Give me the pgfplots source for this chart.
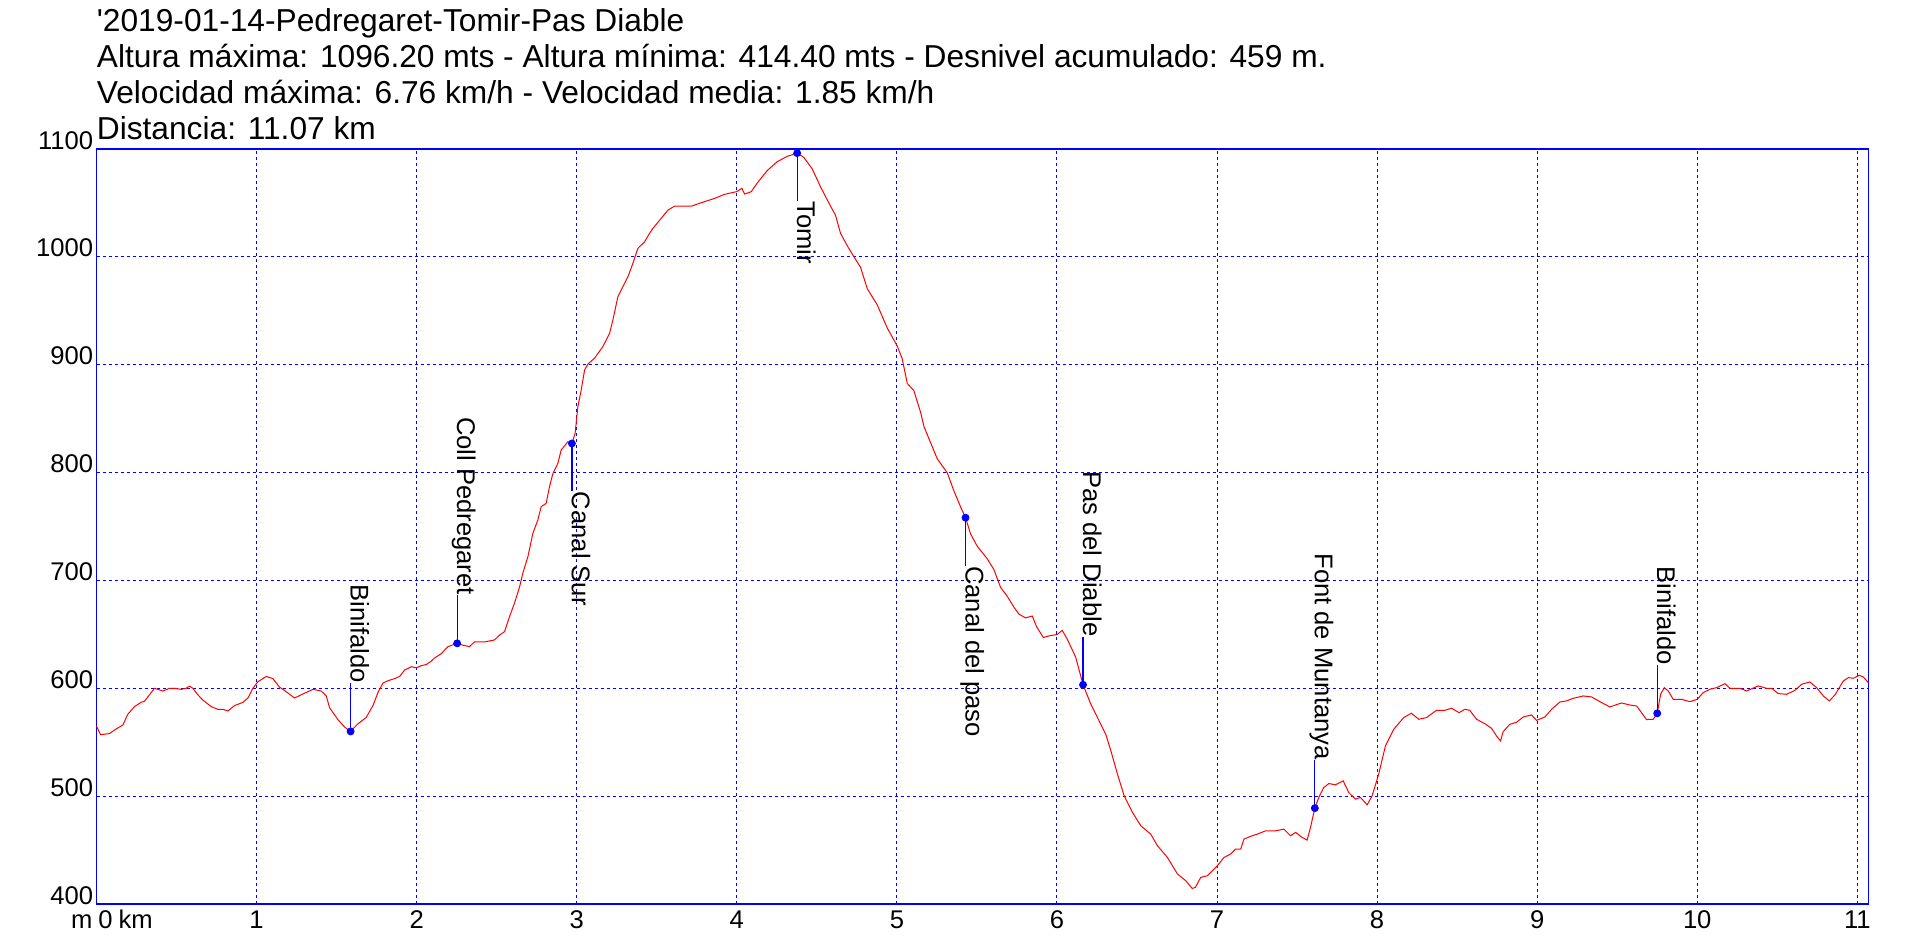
\documentclass[border=0pt]{standalone}
\usepackage{fontspec}
\setmainfont{Liberation Sans}[Ligatures=TeXOff]
\usepackage{pgfplots}
\pgfplotsset{compat=1.18}
\newcommand{\titlefont}{\fontsize{15.85}{18}\selectfont}
\newcommand{\tickfont}{\fontsize{12.8}{15}\selectfont}
\begin{document}
\begin{tikzpicture}
\begin{axis}[
  at={(48.25pt,23pt)}, anchor=south west,
  scale only axis, width=886pt, height=377.5pt,
  xmin=0, xmax=11.07, ymin=400, ymax=1100,
  xtick={0,1,2,3,4,5,6,7,8,9,10,11},
  xticklabels={{\hspace*{9pt}\makebox[0pt][r]{m\hspace{3pt}}0\makebox[0pt][l]{\hspace{3pt}km}},1,2,3,4,5,6,7,8,9,10,11},
  ytick={400,500,600,700,800,900,1000,1100},
  yticklabels={400,500,600,700,800,900,1000,1100},
  major tick length=0pt,
  tick style={draw=none},
  grid=major,
  major grid style={blue, line width=0.5pt, dash pattern=on 1.5pt off 1.5pt},
  axis line style={blue, line width=0.7pt},
  xticklabel style={anchor=north, inner sep=0pt, yshift=-3pt, font=\tickfont},
  yticklabel style={anchor=base east, inner sep=0pt, xshift=-1.5pt, font=\tickfont},
  clip=false,
]
\addplot[red, line width=0.5pt] coordinates {
(0.00,565) (0.025,557) (0.08,558) (0.12,562) (0.165,566) (0.196,576) (0.237,583) (0.279,587) (0.30,588) (0.331,594)
(0.3625,600) (0.383,599) (0.415,597.5) (0.456,600) (0.4875,600) (0.529,599) (0.56,600) (0.581,602) (0.602,600) (0.633,594)
(0.665,589) (0.717,583) (0.758,580.5) (0.79,580.5) (0.821,579) (0.8625,584) (0.915,587) (0.946,591) (0.977,600) (1.008,606)
(1.06,611) (1.102,609) (1.144,601) (1.175,598) (1.237,591) (1.279,594) (1.352,599) (1.404,597.5) (1.435,593) (1.456,582)
(1.508,571) (1.55,564) (1.5875,560) (1.6125,564) (1.633,567) (1.685,573) (1.727,584) (1.758,596) (1.79,605) (1.821,607)
(1.8625,609) (1.894,611) (1.925,617) (1.967,620) (1.998,619) (2.029,621) (2.06,622) (2.09,625) (2.111,628) (2.153,632)
(2.195,638.6) (2.253,641.7) (2.288,640) (2.33,638.6) (2.361,643) (2.424,643) (2.486,644.8) (2.518,649.4) (2.549,652.5) (2.58,666.4)
(2.611,678.8) (2.643,694) (2.663,706.6) (2.695,722) (2.726,743.7) (2.757,756) (2.778,768.4) (2.809,771.5) (2.83,787) (2.851,799)
(2.882,808.5) (2.903,821) (2.945,828.6) (2.97,827) (2.99,836.4) (3.007,861) (3.028,876.5) (3.049,895) (3.07,900.6) (3.111,906)
(3.163,916.7) (3.205,929) (3.226,941.4) (3.257,963) (3.288,972.3) (3.32,981.6) (3.351,994) (3.382,1007.9) (3.424,1014) (3.455,1021.8)
(3.476,1026.4) (3.518,1034) (3.57,1043.4) (3.611,1047) (3.716,1047) (3.778,1050.2) (3.861,1054.2) (3.924,1058) (3.997,1060.4) (4.032,1063.5)
(4.049,1058.2) (4.09,1060.4) (4.127,1068.3) (4.19,1080) (4.252,1088.2) (4.315,1093.2) (4.377,1096.2) (4.419,1092.2) (4.471,1081.6) (4.523,1065)
(4.575,1050) (4.617,1038.5) (4.648,1021.9) (4.69,1010.3) (4.731,1000.3) (4.773,990.4) (4.815,970.5) (4.877,955.6) (4.94,934) (5.002,917.4)
(5.033,905.8) (5.065,882.6) (5.106,876) (5.148,856) (5.169,842.8) (5.21,827.9) (5.252,812.9) (5.315,799.7) (5.356,783.1) (5.398,768.2)
(5.429,758.2) (5.46,743.3) (5.502,731.7) (5.565,720) (5.606,710.1) (5.648,693.5) (5.69,685.2) (5.731,675.3) (5.763,668.7) (5.804,665.3)
(5.846,667) (5.873,657) (5.915,647.1) (5.956,648.8) (6.0,649.8) (6.033,653.7) (6.065,645.4) (6.117,628.9) (6.163,603.3) (6.212,585.2)
(6.243,575.9) (6.305,557.4) (6.337,542) (6.378,520.4) (6.42,500.3) (6.472,484.9) (6.524,472.5) (6.586,464.8) (6.628,454) (6.69,443.2)
(6.753,427.8) (6.805,421.6) (6.845,414.4) (6.865,415.4) (6.898,424.7) (6.94,426.2) (7.002,435.5) (7.044,443.2) (7.085,446.3) (7.116,450.9)
(7.148,450.9) (7.168,460.2) (7.22,463.3) (7.252,464.8) (7.304,467.9) (7.366,467.9) (7.418,469.4) (7.459,463.3) (7.491,466.4) (7.532,461.7)
(7.563,459.3) (7.584,471) (7.611,488.9) (7.636,498.8) (7.667,508) (7.699,511.7) (7.74,510.5) (7.788,514.2) (7.823,503.4) (7.865,497.2)
(7.896,498.8) (7.938,492) (7.969,500.3) (8.01,520.4) (8.052,546.6) (8.104,562) (8.166,572.8) (8.214,576.9) (8.26,571.3) (8.308,572.8)
(8.371,579.6) (8.423,579.6) (8.465,581.5) (8.5125,577.4) (8.548,580.5) (8.579,579.6) (8.621,571.3) (8.673,567.2) (8.715,562.9) (8.746,555.8)
(8.771,551.2) (8.7875,559.8) (8.829,566.6) (8.871,568.5) (8.9125,573.4) (8.965,575.3) (8.996,570.3) (9.048,573.4) (9.09,580.5) (9.142,587.3)
(9.183,588.3) (9.225,590.7) (9.2875,592.9) (9.34,592) (9.392,587.6) (9.454,582.7) (9.527,586.4) (9.579,584.5) (9.621,583.6) (9.652,577.4)
(9.683,571) (9.725,571.3) (9.75,576.8) (9.771,594.4) (9.794,600.6) (9.819,597.5) (9.85,589.8) (9.902,589.8) (9.954,587.6) (10.0,589.8)
(10.0375,596) (10.079,599.1) (10.121,600.6) (10.173,604.3) (10.204,600) (10.267,600) (10.308,597.5) (10.381,602.2) (10.433,600) (10.465,600)
(10.506,595.1) (10.558,594.4) (10.61,598.1) (10.652,603.7) (10.704,605.9) (10.746,600.6) (10.7875,592.9) (10.825,588.3) (10.86,593.8) (10.9125,606.8)
(10.944,609.9) (10.975,609.3) (11.0125,612) (11.0375,610.5) (11.069,605.3)
};
% annotation stems
\addplot[blue, line width=0.6pt, unbounded coords=jump] coordinates {
(1.5875,560) (1.5875,604.5) (nan,nan)
(2.253,641.7) (2.253,686.2) (nan,nan)
(2.97,827) (2.97,782.5) (nan,nan)
(4.377,1096.2) (4.377,1051.7) (nan,nan)
(5.429,758.2) (5.429,713.7) (nan,nan)
(6.163,603.3) (6.163,647.8) (nan,nan)
(7.611,488.9) (7.611,533.4) (nan,nan)
(9.75,576.8) (9.75,621.3)
};
% waypoint markers
\addplot[only marks, mark=*, mark size=1.75pt, blue, mark options={fill=blue, draw=blue}] coordinates {
(1.5875,560) (2.253,641.7) (2.97,827) (4.377,1096.2) (5.429,758.2) (6.163,603.3) (7.611,488.9) (9.75,576.8)
};
% labels above
\addplot[only marks, mark=none, point meta=explicit symbolic, nodes near coords,
  nodes near coords style={rotate=-90, anchor=base east, inner sep=0pt, font=\tickfont, text=black}] coordinates {
(1.5875,604.5) [Binifaldo]
(2.253,686.2) [Coll Pedregaret]
(6.163,647.8) [Pas del Diable]
(7.611,533.4) [Font de Muntanya]
(9.75,621.3) [Binifaldo]
};
% labels below
\addplot[only marks, mark=none, point meta=explicit symbolic, nodes near coords,
  nodes near coords style={rotate=-90, anchor=base west, inner sep=0pt, font=\tickfont, text=black}] coordinates {
(2.97,782.5) [Canal Sur]
(4.377,1051.7) [Tomir]
(5.429,713.7) [Canal del paso]
};
\end{axis}
\node[anchor=base west, inner sep=0pt, font=\titlefont] at (48.25pt,459pt) {'2019-01-14-Pedregaret-Tomir-Pas Diable};
\node[anchor=base west, inner sep=0pt, font=\titlefont] at (48.25pt,441pt) {Altura máxima: 1096.20 mts - Altura mínima: 414.40 mts - Desnivel acumulado: 459 m.};
\node[anchor=base west, inner sep=0pt, font=\titlefont] at (48.25pt,423pt) {Velocidad máxima: 6.76 km/h - Velocidad media: 1.85 km/h};
\node[anchor=base west, inner sep=0pt, font=\titlefont] at (48.25pt,405pt) {Distancia: 11.07 km};
\pgfresetboundingbox
\path[use as bounding box] (0,0) rectangle (958pt,475pt);
\end{tikzpicture}
\end{document}
